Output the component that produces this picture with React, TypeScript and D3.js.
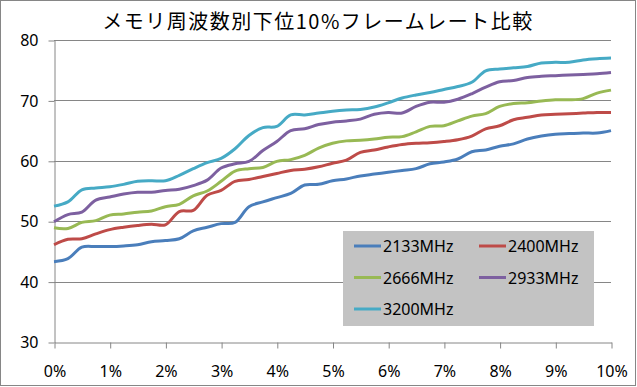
import React, { useRef, useEffect } from 'react';
import * as d3 from 'd3';

// x positions (percentile, %) at which each series was sampled
const percentiles = [
  0, 0.25, 0.5, 0.75, 1, 1.25, 1.5, 1.75, 2, 2.25, 2.5, 2.75, 3, 3.25, 3.5, 3.75, 4, 4.25, 4.5, 4.75,
  5, 5.25, 5.5, 5.75, 6, 6.25, 6.5, 6.75, 7, 7.25, 7.5, 7.75, 8, 8.25, 8.5, 8.75, 9, 9.25, 9.5, 9.75, 10,
];

const mhz2133 = [
  43.3, 43.8, 45.7, 45.8, 45.8, 45.9, 46.1, 46.6, 46.8, 47.1, 48.4, 49.0, 49.6, 49.8, 52.4, 53.2, 53.9, 54.6, 56.0, 56.1,
  56.7, 57.0, 57.5, 57.8, 58.1, 58.4, 58.7, 59.5, 59.8, 60.3, 61.5, 61.8, 62.4, 62.8, 63.6, 64.1, 64.4, 64.5, 64.6, 64.6, 65.0,
];
const mhz2400 = [
  46.1, 47.0, 47.1, 47.9, 48.6, 49.0, 49.3, 49.5, 49.4, 51.6, 51.8, 54.3, 55.1, 56.6, 56.9, 57.4, 57.9, 58.4, 58.6, 59.0,
  59.6, 60.1, 61.4, 61.8, 62.3, 62.7, 62.9, 63.0, 63.2, 63.5, 64.1, 65.3, 65.8, 66.8, 67.2, 67.6, 67.7, 67.8, 67.9, 68.0, 68.0,
];
const mhz2666 = [
  48.9, 48.8, 49.8, 50.1, 51.0, 51.2, 51.5, 51.7, 52.4, 52.8, 54.2, 55.0, 56.6, 58.3, 58.7, 58.9, 59.9, 60.2, 60.9, 62.1,
  62.9, 63.3, 63.4, 63.6, 63.9, 64.0, 64.8, 65.7, 65.8, 66.6, 67.4, 67.8, 69.0, 69.5, 69.6, 69.9, 70.1, 70.1, 70.3, 71.2, 71.7,
];
const mhz2933 = [
  49.9, 51.1, 51.5, 53.5, 54.0, 54.5, 54.8, 54.8, 55.1, 55.3, 55.9, 56.8, 58.8, 59.5, 59.9, 61.7, 63.2, 65.0, 65.3, 66.0,
  66.4, 66.6, 66.9, 67.7, 68.0, 67.9, 69.0, 69.7, 69.7, 70.2, 71.1, 72.2, 73.1, 73.3, 73.8, 74.0, 74.1, 74.2, 74.3, 74.4, 74.6,
];
const mhz3200 = [
  52.5, 53.2, 55.2, 55.5, 55.7, 56.1, 56.6, 56.7, 56.7, 57.6, 58.7, 59.7, 60.4, 62.0, 64.2, 65.5, 65.7, 67.6, 67.6, 67.9,
  68.2, 68.4, 68.5, 68.9, 69.6, 70.4, 70.9, 71.3, 71.8, 72.3, 73.0, 74.9, 75.2, 75.4, 75.6, 76.2, 76.3, 76.3, 76.7, 76.9, 77.0,
];

const seriesNames = ['2133MHz', '2400MHz', '2666MHz', '2933MHz', '3200MHz'];
const seriesValues = [mhz2133, mhz2400, mhz2666, mhz2933, mhz3200];
const seriesColors = ['#4A7EBB', '#BE4B48', '#98B954', '#7D60A0', '#46AAC5'];

const xTicks = [0, 1, 2, 3, 4, 5, 6, 7, 8, 9, 10];
const yTicks = [30, 40, 50, 60, 70, 80];

const title = 'メモリ周波数別下位10%フレームレート比較';

const App = () => {
  const chartRef = useRef<HTMLDivElement>(null);

  useEffect(() => {
    const width = 637;
    const height = 387;
    const font = '"Noto Sans", "Noto Sans CJK JP", sans-serif';

    d3.select(chartRef.current).select('svg').remove();

    const svg = d3.select(chartRef.current)
      .append('svg')
      .attr('width', width)
      .attr('height', height)
      .style('display', 'block');

    svg.append('rect')
      .attr('x', 0.5).attr('y', 0.5)
      .attr('width', width - 2).attr('height', height - 2)
      .attr('fill', '#fff')
      .attr('stroke', '#868686');

    const x = d3.scaleLinear().domain([0, 10]).range([54, 611]);
    const y = d3.scaleLinear().domain([30, 80]).range([342, 40]);

    // gridlines
    svg.append('g')
      .selectAll('line')
      .data(yTicks.slice(1))
      .enter()
      .append('line')
      .attr('x1', x(0)).attr('x2', x(10))
      .attr('y1', d => Math.round(y(d)) + 0.5)
      .attr('y2', d => Math.round(y(d)) + 0.5)
      .attr('stroke', '#868686');

    // y axis
    const yAxis = svg.append('g')
      .attr('transform', `translate(${Math.round(x(0)) + 0.5},0.5)`)
      .call(d3.axisLeft(y).tickValues(yTicks).tickSize(6).tickSizeOuter(0).tickPadding(10).tickFormat(d3.format('d')));
    yAxis.select('.domain').attr('stroke', '#868686');
    yAxis.selectAll('.tick line').attr('stroke', '#868686');
    yAxis.selectAll('.tick text')
      .attr('fill', '#000')
      .style('font-family', font)
      .style('font-size', '16px');

    // x axis
    const xAxis = svg.append('g')
      .attr('transform', `translate(0.5,${Math.round(y(30)) + 0.5})`)
      .call(d3.axisBottom(x).tickValues(xTicks).tickSize(6).tickSizeOuter(0).tickPadding(17).tickFormat(d => `${d}%`));
    xAxis.select('.domain').attr('stroke', '#868686');
    xAxis.selectAll('.tick line').attr('stroke', '#868686');
    xAxis.selectAll('.tick text')
      .attr('fill', '#000')
      .style('font-family', font)
      .style('font-size', '16px');

    // lines
    const line = d3.line<number>()
      .x((d, i) => x(percentiles[i]))
      .y(d => y(d))
      .curve(d3.curveCatmullRom.alpha(0.5));

    svg.append('g')
      .selectAll('path')
      .data(seriesValues)
      .enter()
      .append('path')
      .attr('d', d => line(d))
      .attr('fill', 'none')
      .attr('stroke', (d, i) => seriesColors[i])
      .attr('stroke-width', 3)
      .attr('stroke-linejoin', 'round');

    // title
    svg.append('text')
      .attr('x', 318)
      .attr('y', 29)
      .attr('text-anchor', 'middle')
      .style('font-family', '"Noto Sans CJK JP", sans-serif')
      .style('font-size', '20px')
      .style('letter-spacing', '1.5px')
      .text(title);

    // legend
    const legend = svg.append('g');
    legend.append('rect')
      .attr('x', 343).attr('y', 231)
      .attr('width', 251).attr('height', 95)
      .attr('fill', '#C3C3C3');

    const items = legend.selectAll('.item')
      .data(seriesNames)
      .enter()
      .append('g')
      .attr('class', 'item')
      .attr('transform', (d, i) => `translate(${i % 2 === 0 ? 354 : 479},${246 + Math.floor(i / 2) * 31.5})`);
    items.append('line')
      .attr('x1', 0).attr('x2', 27)
      .attr('stroke', (d, i) => seriesColors[i])
      .attr('stroke-width', 3);
    items.append('text')
      .attr('x', 29)
      .attr('y', 6)
      .style('font-family', font)
      .style('font-size', '16px')
      .text(d => d);
  }, []);

  return <div ref={chartRef} style={{ position: 'absolute', left: 0, top: 0 }}></div>;
};

export default App;
